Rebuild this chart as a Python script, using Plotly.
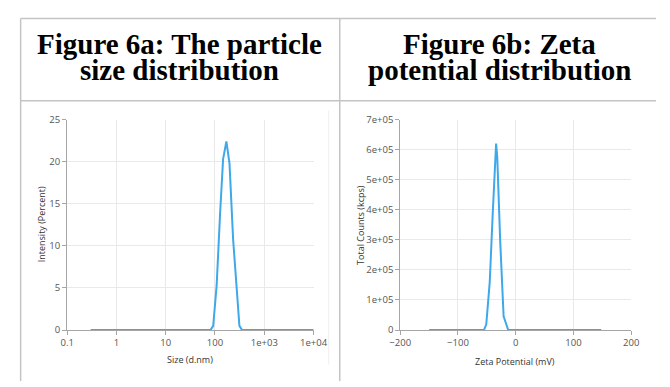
import plotly.graph_objects as go

# ---------------- data ----------------
size_nm = [0.3, 81, 92, 108, 127, 146, 170, 197, 233, 275, 313, 354, 10000]
intensity_pct = [0, 0, 0.5, 5.3, 13.9, 20.3, 22.4, 19.8, 10.8, 4.3, 0.5, 0, 0]

zeta_mv = [-150, -55, -51, -45, -40, -34, -32, -27, -21, -13, 148]
total_counts = [0, 0, 19000, 160000, 380000, 620000, 575000, 300000, 46000, 0, 0]

size_tickvals = [0.1, 1, 10, 100, 1000, 10000]
size_ticktext = ["0.1", "1", "10", "100", "1e+03", "1e+04"]
int_tickvals = [0, 5, 10, 15, 20, 25]
zeta_tickvals = [-200, -100, 0, 100, 200]
count_tickvals = [0, 1e5, 2e5, 3e5, 4e5, 5e5, 6e5, 7e5]
count_ticktext = ["0", "1e+05", "2e+05", "3e+05", "4e+05", "5e+05", "6e+05", "7e+05"]

header_a = ["Figure 6a: The particle", "size distribution"]
header_b = ["Figure 6b: Zeta", "potential distribution"]

# ---------------- layout helpers ----------------
W, H = 670, 387
def fx(p):
    return p / W
def fy(p):
    return 1 - p / H

LINE = "#3ea8e8"
AXIS = "#a6a6a6"
GRID = "#e9e9e9"
TICKFONT = dict(family="Open Sans", size=9.5, color="#555555")
TITLEFONT = dict(family="Open Sans", size=9, color="#333333")

fig = go.Figure()
fig.add_trace(go.Scatter(x=size_nm, y=intensity_pct, mode="lines",
                         line=dict(color=LINE, width=2), xaxis="x", yaxis="y",
                         showlegend=False))
fig.add_trace(go.Scatter(x=zeta_mv, y=total_counts, mode="lines",
                         line=dict(color=LINE, width=2), xaxis="x2", yaxis="y2",
                         showlegend=False))

common_axis = dict(showline=True, linecolor=AXIS, linewidth=1, ticks="outside",
                   ticklen=4, tickcolor=AXIS, showgrid=True, gridcolor=GRID,
                   gridwidth=1, zeroline=False, tickfont=TICKFONT)

fig.update_layout(
    width=W, height=H, margin=dict(l=0, r=0, t=0, b=0),
    paper_bgcolor="white", plot_bgcolor="white",
    xaxis=dict(domain=[fx(58.3), fx(314.3)], type="log", range=[-1, 4],
               tickvals=size_tickvals, ticktext=size_ticktext,
               anchor="y", **common_axis),
    yaxis=dict(domain=[fy(334.3), fy(116.5)], range=[0, 25],
               tickvals=int_tickvals, anchor="x", **common_axis),
    xaxis2=dict(domain=[fx(404.3), fx(644.3)], range=[-200, 200],
                tickvals=zeta_tickvals, anchor="y2", **common_axis),
    yaxis2=dict(domain=[fy(334.3), fy(116.5)], range=[0, 7e5],
                tickvals=count_tickvals, ticktext=count_ticktext,
                anchor="x2", **common_axis),
)

ann = []
# headers
for col_center, lines in ((175.5, header_a), (507, header_b)):
    for i, txt in enumerate(lines):
        ann.append(dict(text=txt, x=fx(col_center), y=fy(38.5 + 27 * i),
                        xref="paper", yref="paper", xanchor="center",
                        yanchor="middle", showarrow=False,
                        font=dict(family="Liberation Serif", size=29,
                                  color="black", weight="bold")))
# axis titles
ann.append(dict(text="Size (d.nm)", x=fx(186), y=fy(365), xref="paper", yref="paper",
                xanchor="center", yanchor="middle", showarrow=False, font=TITLEFONT))
ann.append(dict(text="Zeta Potential (mV)", x=fx(524), y=fy(366.5), xref="paper", yref="paper",
                xanchor="center", yanchor="middle", showarrow=False, font=TITLEFONT))
ann.append(dict(text="Intensity (Percent)", x=fx(32), y=fy(225), xref="paper", yref="paper",
                xanchor="center", yanchor="middle", showarrow=False, textangle=-90,
                font=TITLEFONT))
ann.append(dict(text="Total Counts (kcps)", x=fx(363), y=fy(225), xref="paper", yref="paper",
                xanchor="center", yanchor="middle", showarrow=False, textangle=-90,
                font=TITLEFONT))
fig.update_layout(annotations=ann)

# table borders
TB = "#c4c4c4"
shapes = [
    dict(type="line", xref="paper", yref="paper", x0=fx(10), x1=1, y0=fy(12), y1=fy(12),
         line=dict(color=TB, width=1.5)),
    dict(type="line", xref="paper", yref="paper", x0=fx(10), x1=1, y0=fy(97), y1=fy(97),
         line=dict(color=TB, width=1.5)),
    dict(type="line", xref="paper", yref="paper", x0=fx(10), x1=fx(10), y0=fy(12), y1=0,
         line=dict(color=TB, width=1.5)),
    dict(type="line", xref="paper", yref="paper", x0=fx(341.5), x1=fx(341.5), y0=fy(12), y1=0,
         line=dict(color=TB, width=1.5)),
    dict(type="line", xref="paper", yref="paper", x0=fx(330), x1=fx(330), y0=fy(107), y1=fy(370),
         line=dict(color="#efefef", width=1)),
]
fig.update_layout(shapes=shapes)

fig.write_html("out.html")
